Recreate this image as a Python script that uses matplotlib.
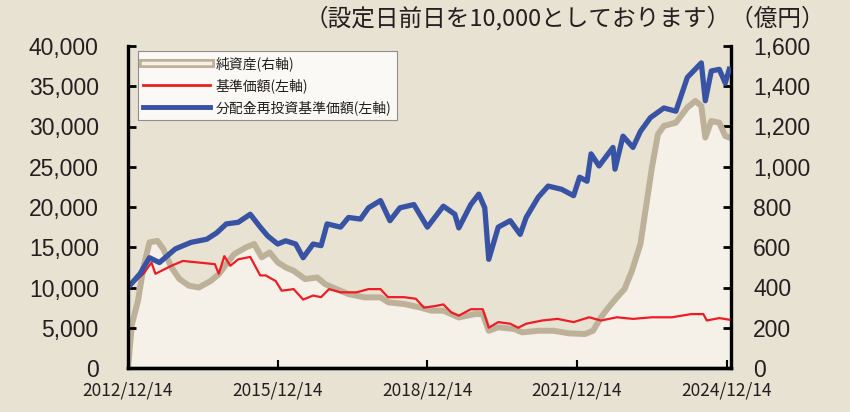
import matplotlib
matplotlib.use("Agg")
import matplotlib.pyplot as plt
import matplotlib.patheffects as pe
from matplotlib.lines import Line2D
import pandas as pd

plt.rcParams['font.family'] = ['Noto Sans CJK JP', 'DejaVu Sans']

start = pd.Timestamp("2012-12-14")

# blue: 分配金再投資基準価額 (years since launch, value)
blue_t = [0, .24, .43, .63, .95, 1.26, 1.58, 1.78, 1.97, 2.21, 2.45, 2.65, 2.8, 3.0, 3.16,
          3.36, 3.51, 3.71, 3.87, 3.99, 4.26, 4.42, 4.66, 4.82, 5.06, 5.25, 5.45, 5.73, 6.0,
          6.32, 6.55, 6.63, 6.87, 7.03, 7.15, 7.23, 7.42, 7.66, 7.86, 7.98, 8.22, 8.42, 8.69,
          8.93, 9.05, 9.2, 9.28, 9.44, 9.72, 9.76, 9.92, 10.12, 10.27, 10.47, 10.74, 10.98,
          11.21, 11.49, 11.57, 11.69, 11.85, 11.97, 12.05]
blue_v = [10000, 11700, 13700, 13100, 14800, 15600, 16000, 16800, 17900, 18100, 19100, 17500,
          16400, 15400, 15800, 15400, 13700, 15400, 15200, 17900, 17500, 18700, 18500, 19900,
          20800, 18300, 19900, 20300, 17500, 20100, 19100, 17400, 20300, 21600, 19900, 13500,
          17500, 18300, 16600, 18700, 21200, 22600, 22200, 21400, 23700, 23200, 26600, 25100,
          27400, 24700, 28800, 27400, 29400, 31100, 32300, 31900, 36100, 37900, 33200, 36900,
          37100, 35400, 37100]

# red: 基準価額
red_t = [0, .31, .47, .55, .87, 1.1, 1.42, 1.74, 1.82, 1.93, 2.05, 2.21, 2.45, 2.65, 2.76,
         2.96, 3.08, 3.32, 3.51, 3.71, 3.87, 4.03, 4.26, 4.58, 4.82, 5.06, 5.21, 5.53, 5.77,
         5.93, 6.16, 6.32, 6.48, 6.63, 6.87, 7.11, 7.23, 7.42, 7.66, 7.82, 7.98, 8.3, 8.61,
         8.93, 9.24, 9.48, 9.8, 10.12, 10.5, 10.9, 11.29, 11.53, 11.6, 11.85, 12.05]
red_v = [10000, 11700, 13100, 11700, 12700, 13300, 13100, 12900, 11700, 13900, 12700, 13500,
         13800, 11500, 11500, 10800, 9600, 9800, 8500, 9000, 8800, 9800, 9400, 9400, 9800,
         9800, 8800, 8800, 8600, 7500, 7700, 7900, 6900, 6500, 7300, 7300, 5000, 5700, 5500,
         5000, 5500, 5900, 6100, 5700, 6300, 5900, 6300, 6100, 6300, 6300, 6700, 6700, 5900,
         6200, 6000]

# tan: 純資産 (億円)
tan_t = [0, .08, .2, .31, .43, .59, .71, .87, 1.03, 1.22, 1.42, 1.66, 1.82, 1.97, 2.13, 2.37,
         2.53, 2.68, 2.84, 3.0, 3.16, 3.32, 3.55, 3.79, 3.95, 4.18, 4.42, 4.74, 5.06, 5.22,
         5.53, 5.85, 6.08, 6.32, 6.63, 6.95, 7.11, 7.23, 7.42, 7.74, 7.9, 8.22, 8.53, 8.84,
         9.16, 9.32, 9.48, 9.63, 9.8, 9.95, 10.1, 10.27, 10.38, 10.5, 10.62, 10.74, 10.98,
         11.21, 11.37, 11.49, 11.57, 11.69, 11.85, 11.97, 12.05]
tan_v = [0, 219, 334, 500, 624, 632, 590, 500, 442, 409, 400, 433, 466, 516, 566, 600, 616,
         550, 574, 525, 500, 483, 442, 450, 417, 392, 367, 351, 351, 326, 318, 301, 285, 285,
         251, 268, 268, 185, 202, 194, 177, 185, 185, 172, 169, 185, 252, 301, 351, 392, 483,
         616, 798, 996, 1161, 1203, 1219, 1294, 1327, 1302, 1145, 1227, 1219, 1153, 1145]

xtick_dates = ["2012-12-14", "2015-12-14", "2018-12-14", "2021-12-14", "2024-12-14"]
xtick_labels = ["2012/12/14", "2015/12/14", "2018/12/14", "2021/12/14", "2024/12/14"]
labels = ["純資産(右軸)", "基準価額(左軸)", "分配金再投資基準価額(左軸)"]


def to_dates(t):
    return [start + pd.Timedelta(days=x * 365.25) for x in t]


bg = "#e8e2d2"
tan = "#bdb199"
cream = "#f5f1e9"
red = "#ee1c25"
blue = "#3953a4"
txt_c = "#231f20"

fig = plt.figure(figsize=(8.5, 4.12), dpi=100, facecolor=bg)
ax = fig.add_axes([128 / 850, 44 / 412, 603 / 850, 322 / 412])
ax2 = ax.twinx()
ax.set_zorder(ax2.get_zorder() + 1)
ax.patch.set_visible(False)
ax2.set_facecolor("white")

# net assets on the right axis
td = to_dates(tan_t)
ax2.fill_between(td, tan_v, 0, color=cream, lw=0)
ax2.plot(td, tan_v, color=tan, lw=4.3, solid_joinstyle="round")

ax.plot(to_dates(red_t), red_v, color=red, lw=1.6)
ax.plot(to_dates(blue_t), blue_v, color=blue, lw=3.8, solid_joinstyle="round")

ax.set_ylim(0, 40000)
ax2.set_ylim(0, 1600)
ax.set_xlim(start, pd.Timestamp("2025-01-14"))
ax.set_yticks(range(0, 40001, 5000))
ax.set_yticklabels([f"{v:,}" for v in range(0, 40001, 5000)], family="Liberation Sans")
ax2.set_yticks(range(0, 1601, 200))
ax2.set_yticklabels([f"{v:,}" for v in range(0, 1601, 200)], family="Liberation Sans")
ax.set_xticks([pd.Timestamp(d) for d in xtick_dates])
ax.set_xticklabels(xtick_labels)

for a in (ax, ax2):
    a.spines["top"].set_visible(False)
    for s in ("left", "right", "bottom"):
        a.spines[s].set_linewidth(2.4)
        a.spines[s].set_color("black")
ax.spines["right"].set_visible(False)
ax2.spines["left"].set_visible(False)

ax.tick_params(axis="y", direction="in", length=6, width=2, labelsize=16.5, pad=21,
               color="black", labelcolor=txt_c)
ax2.tick_params(axis="y", direction="in", length=6, width=2, labelsize=16.5, pad=16,
                color="black", labelcolor=txt_c)
ax.tick_params(axis="x", direction="in", length=6, width=1.5, labelsize=12.5, pad=10,
               color="black", labelcolor=txt_c)

handles = [
    Line2D([], [], color=cream, lw=2.5,
           path_effects=[pe.Stroke(linewidth=6.5, foreground=tan), pe.Normal()]),
    Line2D([], [], color=red, lw=2),
    Line2D([], [], color=blue, lw=3.5),
]
leg = ax.legend(handles, labels, loc="upper left", bbox_to_anchor=(0.016, 0.985),
                fontsize=10, frameon=True, fancybox=False, edgecolor="#777777",
                handlelength=4.8, handletextpad=0.4, labelspacing=0.5,
                borderpad=0.4, borderaxespad=0)
leg.get_frame().set_linewidth(0.8)
for txt in leg.get_texts():
    txt.set_color(txt_c)

fig.text(825 / 850, 1 - 18 / 412, "（設定日前日を10,000としております）（億円）",
         ha="right", va="center", fontsize=17, color=txt_c)

fig.savefig("out.png", dpi=100, facecolor=bg)
